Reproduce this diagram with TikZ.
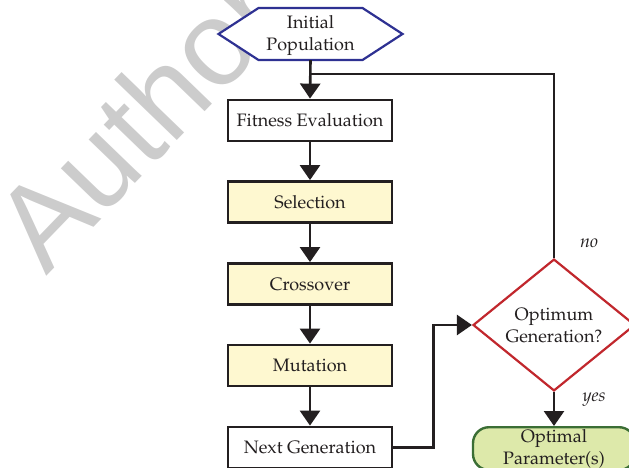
\documentclass[tikz,border=0pt]{standalone}
\usepackage[T1]{fontenc}
\usepackage{fontspec}
\newfontfamily\wmfont{Liberation Sans}
\newcommand\palfont{\fontencoding{T1}\fontfamily{ppl}\selectfont}
\usetikzlibrary{arrows.meta,shapes.geometric}

\definecolor{inkc}{RGB}{35,31,32}
\definecolor{hexblue}{RGB}{46,49,146}
\definecolor{stepfill}{RGB}{254,248,208}
\definecolor{decred}{RGB}{193,39,45}
\definecolor{endfill}{RGB}{221,233,170}
\definecolor{endgreen}{RGB}{59,110,53}
\definecolor{wmgray}{RGB}{204,204,204}

\tikzset{
  txt/.style={font=\palfont\fontsize{18}{22}\selectfont, text=inkc, align=center},
  stepbox/.style={txt, draw=inkc, line width=2.8pt, fill=white,
    minimum width=164pt, minimum height=41pt, inner sep=0pt},
  opbox/.style={stepbox, fill=stepfill},
  hexline/.style={draw=hexblue, line width=2.2pt, fill=white},
  decbox/.style={txt, diamond, draw=decred, line width=2.2pt, fill=white,
    minimum width=162pt, minimum height=120pt, inner sep=0pt},
  endbox/.style={txt, draw=endgreen, line width=2.4pt, fill=endfill,
    rounded corners=16pt, minimum width=162pt, inner xsep=0pt, inner ysep=2pt},
  flow/.style={draw=inkc, line width=2.6pt,
    -{Triangle[length=15pt,width=20pt]}},
  plain/.style={draw=inkc, line width=2.6pt},
  lbl/.style={font=\palfont\itshape\fontsize{18}{22}\selectfont, text=inkc},
  wm/.style={font=\wmfont\fontsize{120}{120}\selectfont, text=wmgray}
}

\begin{document}
\begin{tikzpicture}[x=1pt,y=-1pt]
\useasboundingbox (0,0) rectangle (629,468);

% watermark
\node[wm, rotate=46, anchor=base] (mark) at (169,149) {Author};

% start: hexagon
\coordinate (hc) at (310.5,34);
\path[hexline] (hc) ++(-92,0) -- ++(40,-26) -- ++(104,0) -- ++(40,26)
  -- ++(-40,26) -- ++(-104,0) -- cycle;
\node[txt, minimum width=184pt, minimum height=52pt, inner sep=0pt]
  (init) at (hc) {};
\node[txt, inner sep=0pt] (inittext) at (310.5,35.5) {Initial\\Population};

% process steps
\node[stepbox] (fit) at (310,120.5) {Fitness Evaluation};
\node[opbox]   (sel) at (310,202) {Selection};
\node[opbox]   (cro) at (310,284) {Crossover};
\node[opbox]   (mut) at (310,365.5) {Mutation};
\node[stepbox] (nxt) at (310,447.5) {Next Generation};

% decision and result
\node[decbox] (dec) at (554,325) {Optimum\\Generation?};
\node[endbox, anchor=north] (res) at (554,426) {Optimal\\Parameter(s)};

% connectors
\coordinate (join) at (310,74);
\draw[flow] (init.south) -- (fit.north);
\draw[flow] (fit) -- (sel);
\draw[flow] (sel) -- (cro);
\draw[flow] (cro) -- (mut);
\draw[flow] (mut) -- (nxt);
\draw[flow] (nxt.east) -- ++(40,0) |- (dec.west);
\draw[plain] (dec.north) |- (join);
\draw[flow] (dec.south) -- (res.north);

% branch labels
\node[lbl] (no) at (589,243) {no};
\node[lbl] (yes) at (594,399) {yes};
\end{tikzpicture}
\end{document}
